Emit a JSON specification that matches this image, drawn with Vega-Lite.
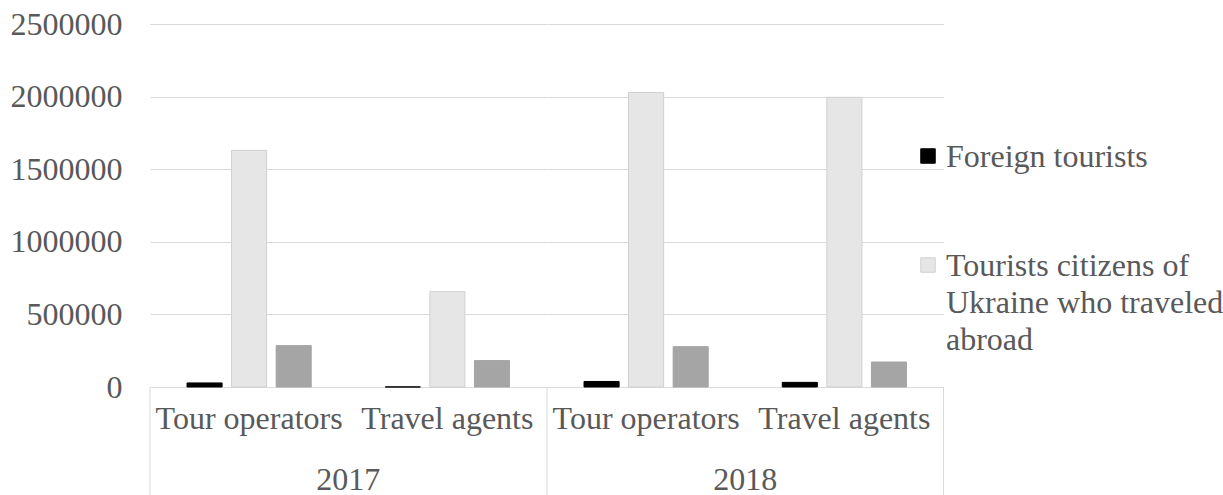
{
  "$schema": "https://vega.github.io/schema/vega-lite/v6.json",
  "autosize": {"type": "pad"},
  "padding": {"left": 10, "top": 8, "right": 0, "bottom": 0},
  "background": "white",
  "bounds": "flush",
  "data": {
    "values": [
      {"year": "2017", "type": "Tour operators", "series": "Foreign tourists", "value": 28000},
      {"year": "2017", "type": "Tour operators", "series": "Tourists citizens of Ukraine who traveled abroad", "value": 1630000},
      {"year": "2017", "type": "Tour operators", "series": "Domestic tourists", "value": 285000},
      {"year": "2017", "type": "Travel agents", "series": "Foreign tourists", "value": 800},
      {"year": "2017", "type": "Travel agents", "series": "Tourists citizens of Ukraine who traveled abroad", "value": 657000},
      {"year": "2017", "type": "Travel agents", "series": "Domestic tourists", "value": 182000},
      {"year": "2018", "type": "Tour operators", "series": "Foreign tourists", "value": 38000},
      {"year": "2018", "type": "Tour operators", "series": "Tourists citizens of Ukraine who traveled abroad", "value": 2028000},
      {"year": "2018", "type": "Tour operators", "series": "Domestic tourists", "value": 278000},
      {"year": "2018", "type": "Travel agents", "series": "Foreign tourists", "value": 32000},
      {"year": "2018", "type": "Travel agents", "series": "Tourists citizens of Ukraine who traveled abroad", "value": 1995000},
      {"year": "2018", "type": "Travel agents", "series": "Domestic tourists", "value": 172000}
    ]
  },
  "facet": {
    "column": {
      "field": "year",
      "type": "nominal",
      "header": {
        "title": null,
        "labelOrient": "bottom",
        "labelFont": "Liberation Serif",
        "labelFontSize": 32,
        "labelColor": "#595959",
        "labelPadding": 31
      }
    }
  },
  "spacing": 0,
  "spec": {
    "width": 396.5,
    "height": 363,
    "layer": [
      {
        "mark": {"type": "bar", "strokeWidth": 1},
        "encoding": {
          "x": {
            "field": "type",
            "type": "nominal",
            "scale": {"paddingInner": 0, "paddingOuter": 0},
            "axis": {
              "title": null,
              "labelAngle": 0,
              "ticks": false,
              "domainColor": "#d9d9d9",
              "labelFont": "Liberation Serif",
              "labelFontSize": 32,
              "labelColor": "#595959",
              "labelPadding": 16,
              "labelLimit": 400
            }
          },
          "xOffset": {
            "field": "series",
            "type": "nominal",
            "sort": ["Foreign tourists", "Tourists citizens of Ukraine who traveled abroad", "Domestic tourists"],
            "scale": {"paddingInner": 0.213, "paddingOuter": 0.831}
          },
          "y": {
            "field": "value",
            "type": "quantitative",
            "scale": {"domain": [0, 2500000], "nice": false},
            "axis": {
              "title": null,
              "values": [0, 500000, 1000000, 1500000, 2000000, 2500000],
              "format": "d",
              "domain": false,
              "ticks": false,
              "gridColor": "#d9d9d9",
              "labelFont": "Liberation Serif",
              "labelFontSize": 32,
              "labelColor": "#595959",
              "labelPadding": 28
            }
          },
          "color": {
            "field": "series",
            "type": "nominal",
            "scale": {
              "domain": ["Foreign tourists", "Tourists citizens of Ukraine who traveled abroad", "Domestic tourists"],
              "range": ["#000000", "#e6e6e6", "#a5a5a5"]
            },
            "legend": {
              "orient": "none",
              "legendX": 762,
              "legendY": 116,
              "title": null,
              "values": ["Foreign tourists", "Tourists citizens of Ukraine who traveled abroad"],
              "symbolType": "square",
              "symbolSize": 210,
              "labelFont": "Liberation Serif",
              "labelFontSize": 32,
              "labelColor": "#595959",
              "labelLimit": 400,
              "labelOffset": 2,
              "padding": 0,
              "rowPadding": 76,
              "labelBaseline": "alphabetic",
              "labelExpr": "datum.label == 'Tourists citizens of Ukraine who traveled abroad' ? ['Tourists citizens of', 'Ukraine who traveled', 'abroad'] : datum.label",
              "encode": {
                "labels": {"update": {"lineHeight": {"value": 37}, "dy": {"value": 11}}},
                "symbols": {"update": {"stroke": {"signal": "datum.value == 'Foreign tourists' ? '#000000' : '#c8c8c8'"}, "strokeWidth": {"value": 1}}}
              }
            }
          },
          "stroke": {
            "field": "series",
            "type": "nominal",
            "scale": {
              "domain": ["Foreign tourists", "Tourists citizens of Ukraine who traveled abroad", "Domestic tourists"],
              "range": ["#000000", "#d0d0d0", "#a5a5a5"]
            },
            "legend": null
          }
        }
      },
      {
        "mark": {"type": "rule", "color": "#d9d9d9", "strokeWidth": 1},
        "transform": [{"filter": "datum.type == 'Tour operators' && datum.series == 'Foreign tourists'"}],
        "encoding": {
          "x": {"field": "type", "type": "nominal", "bandPosition": 0},
          "y": {"datum": 0},
          "y2": {"datum": -760000}
        }
      },
      {
        "mark": {"type": "rule", "color": "#d9d9d9", "strokeWidth": 1},
        "transform": [{"filter": "datum.year == '2018' && datum.type == 'Travel agents' && datum.series == 'Foreign tourists'"}],
        "encoding": {
          "x": {"field": "type", "type": "nominal", "bandPosition": 1},
          "y": {"datum": 0},
          "y2": {"datum": -760000}
        }
      }
    ]
  },
  "config": {
    "view": {"stroke": null},
    "font": "Liberation Serif"
  }
}
